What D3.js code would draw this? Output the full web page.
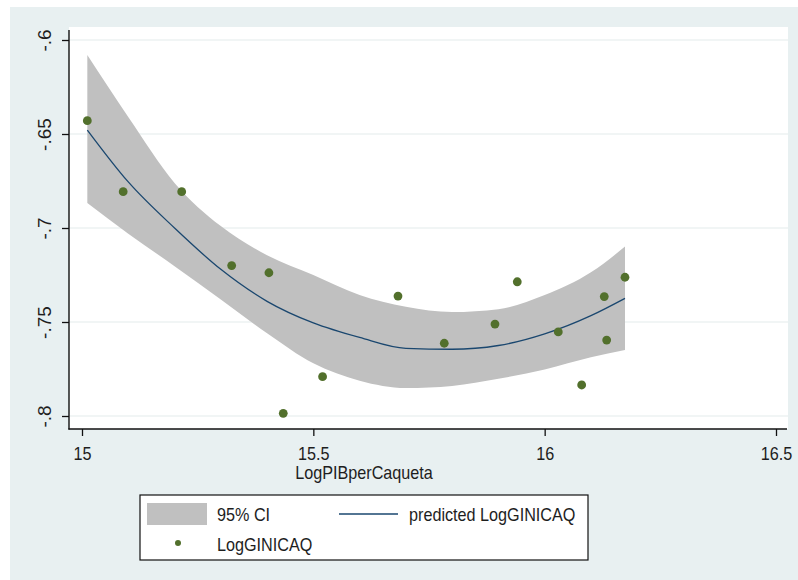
<!DOCTYPE html>
<html>
<head>
<meta charset="utf-8">
<script src="https://cdn.jsdelivr.net/npm/d3@7"></script>
<style>
  html, body { margin: 0; padding: 0; background: #ffffff; }
  svg { display: block; font-family: "Liberation Sans", Arial, sans-serif; }
</style>
</head>
<body>
<svg id="chart" width="798" height="580"></svg>
<script>
// ---------------- data ----------------
// Observed points
const pointX = [15.0115, 15.089, 15.2155, 15.3235, 15.404, 15.435, 15.520, 15.683,
                15.783, 15.8926, 15.9408, 16.0294, 16.080, 16.1288, 16.134, 16.1736];
const pointY = [-0.6429, -0.6807, -0.6807, -0.7200, -0.7238, -0.7986, -0.7791, -0.7362,
                -0.7613, -0.7511, -0.7286, -0.7553, -0.7835, -0.7365, -0.7596, -0.7262];

// Fitted line and 95% CI
const fitX  = [15.0115, 15.1, 15.2, 15.3, 15.4, 15.5, 15.6, 15.7, 15.8, 15.9, 16.0, 16.1, 16.1736];
const fitY  = [-0.6479, -0.6755, -0.7000, -0.7220, -0.7390, -0.7505, -0.7582, -0.7640, -0.7645, -0.7625, -0.7563, -0.7466, -0.7374];
const ciHi  = [-0.6080, -0.6410, -0.6760, -0.6990, -0.7145, -0.7250, -0.7356, -0.7419, -0.7447, -0.7432, -0.7357, -0.7236, -0.7099];
const ciLo  = [-0.6867, -0.7030, -0.7203, -0.7380, -0.7560, -0.7720, -0.7812, -0.7851, -0.7840, -0.7802, -0.7752, -0.7688, -0.7649];

// Axes
const xTicks = [15, 15.5, 16, 16.5];
const xTickLabels = ["15", "15.5", "16", "16.5"];
const yTicks = [-0.8, -0.75, -0.7, -0.65, -0.6];
const yTickLabels = ["-.8", "-.75", "-.7", "-.65", "-.6"];
const xTitle = "LogPIBperCaqueta";
const legendLabels = ["95% CI", "predicted LogGINICAQ", "LogGINICAQ"];

// ---------------- layout ----------------
const W = 798, H = 580;
const plot = { left: 69, right: 788, top: 27, bottom: 429 };
const colors = {
  outer: "#e8f0f1",
  grid: "#e4ecec",
  band: "#c0c0c0",
  line: "#1a476f",
  point: "#52702c",
  text: "#1e1e1e"
};

const svg = d3.select("#chart");

// outer graph region
svg.append("rect").attr("x", 10).attr("y", 7).attr("width", W - 10).attr("height", H - 7)
  .attr("fill", colors.outer);
// plot region
svg.append("rect").attr("x", plot.left).attr("y", plot.top)
  .attr("width", plot.right - plot.left).attr("height", plot.bottom - plot.top)
  .attr("fill", "#ffffff");

const x = d3.scaleLinear().domain([15, 16.5]).range([82, 776]);
const y = d3.scaleLinear().domain([-0.8, -0.6]).range([416, 40]);

// gridlines
svg.append("g").selectAll("line").data(yTicks).join("line")
  .attr("x1", plot.left + 1).attr("x2", plot.right)
  .attr("y1", d => y(d)).attr("y2", d => y(d))
  .attr("stroke", colors.grid).attr("stroke-width", 1.2);

// table
const fitData = fitX.map((v, i) => ({ x: v, y: fitY[i], hi: ciHi[i], lo: ciLo[i] }));
const pts = pointX.map((v, i) => ({ x: v, y: pointY[i] }));

// CI band
svg.append("path").datum(fitData)
  .attr("d", d3.area().x(d => x(d.x)).y0(d => y(d.lo)).y1(d => y(d.hi)).curve(d3.curveMonotoneX))
  .attr("fill", colors.band);

// fitted line
svg.append("path").datum(fitData)
  .attr("d", d3.line().x(d => x(d.x)).y(d => y(d.y)).curve(d3.curveMonotoneX))
  .attr("fill", "none").attr("stroke", colors.line).attr("stroke-width", 1.3);

// points
svg.append("g").selectAll("circle").data(pts).join("circle")
  .attr("cx", d => x(d.x)).attr("cy", d => y(d.y)).attr("r", 4.4)
  .attr("fill", colors.point);

// axes
const yAxis = d3.axisLeft(y).tickValues(yTicks).tickSize(7).tickSizeOuter(0)
  .tickFormat((d, i) => yTickLabels[i]);
const gy = svg.append("g").attr("transform", `translate(${plot.left},0)`).call(yAxis);
gy.select(".domain").remove();
gy.selectAll(".tick line").attr("stroke", "#111").attr("stroke-width", 1.3);
gy.selectAll(".tick text")
  .attr("x", 0).attr("y", 0).attr("dy", null)
  .attr("text-anchor", "middle")
  .attr("transform", "translate(-18,0) rotate(-90)")
  .attr("font-size", 19).attr("fill", colors.text)
  .style("font-family", "'Liberation Sans', Arial, sans-serif");

const xAxis = d3.axisBottom(x).tickValues(xTicks).tickSize(7).tickSizeOuter(0)
  .tickFormat((d, i) => xTickLabels[i]);
const gx = svg.append("g").attr("transform", `translate(0,${plot.bottom})`).call(xAxis);
gx.select(".domain").remove();
gx.selectAll(".tick line").attr("stroke", "#111").attr("stroke-width", 1.3);
gx.selectAll(".tick text")
  .attr("y", 31.5).attr("dy", null)
  .attr("transform", "scale(0.9,1)")
  .attr("font-size", 18).attr("fill", colors.text)
  .style("font-family", "'Liberation Sans', Arial, sans-serif");

// axis lines
svg.append("line").attr("x1", plot.left).attr("x2", plot.left)
  .attr("y1", 30).attr("y2", plot.bottom + 0.6)
  .attr("stroke", "#111").attr("stroke-width", 1.4);
svg.append("line").attr("x1", plot.left - 0.6).attr("x2", 787)
  .attr("y1", plot.bottom).attr("y2", plot.bottom)
  .attr("stroke", "#111").attr("stroke-width", 1.4);

// helper for horizontally condensed text
function label(xp, yp, txt, anchor) {
  svg.append("text")
    .attr("transform", `translate(${xp},${yp}) scale(0.9,1)`)
    .attr("text-anchor", anchor || "start")
    .attr("font-size", 18).attr("fill", colors.text)
    .text(txt);
}

// x title
label(364, 479, xTitle, "middle");

// legend
svg.append("rect").attr("x", 140).attr("y", 495).attr("width", 448).attr("height", 65)
  .attr("fill", "#ffffff").attr("stroke", "#111").attr("stroke-width", 1.2);
svg.append("rect").attr("x", 147).attr("y", 503).attr("width", 60).attr("height", 22)
  .attr("fill", colors.band);
label(217, 521, legendLabels[0]);
svg.append("line").attr("x1", 339).attr("x2", 398).attr("y1", 514).attr("y2", 514)
  .attr("stroke", colors.line).attr("stroke-width", 1.3);
label(409, 521, legendLabels[1]);
svg.append("circle").attr("cx", 178).attr("cy", 543).attr("r", 3).attr("fill", colors.point);
label(217, 551, legendLabels[2]);
</script>
</body>
</html>
